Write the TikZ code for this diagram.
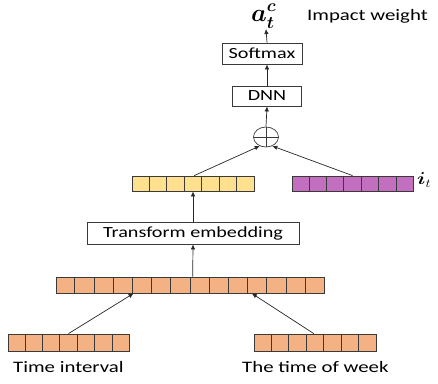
\documentclass[tikz,border=0pt]{standalone}
\usepackage{amsmath}
\usepackage{fontspec}
\setmainfont{Carlito}[FakeStretch=1.3]
\usetikzlibrary{arrows.meta,fit,calc,shapes.geometric}
\definecolor{orng}{HTML}{F4B183}
\definecolor{yel}{HTML}{FFE08F}
\definecolor{purp}{HTML}{C36FBF}
\definecolor{edge}{HTML}{3A3A3A}
\tikzset{
  arr/.style={-{Latex[length=5pt,width=4.5pt]}, line width=0.7pt, draw=black!85},
  txtbox/.style={draw=edge, line width=0.8pt, fill=white, inner sep=0pt, font=\fontsize{15.5}{18}\selectfont},
  cellrow/.style={draw=edge, line width=0.8pt, inner sep=0pt},
  lbl/.style={font=\fontsize{16}{18}\selectfont, inner sep=0pt}
}
\newcommand{\vecrow}[7]{%
  \node[cellrow, fill=#7, fit={(#2,#3)(#4,#5)}] (#1) {};
  \foreach \k in {1,...,\numexpr#6-1\relax}{
    \draw[edge, line width=0.8pt] ($(#1.north west)!\k/#6!(#1.north east)$) -- ($(#1.south west)!\k/#6!(#1.south east)$);
  }%
}
\begin{document}
\begin{tikzpicture}[x=1pt,y=-1pt]
\useasboundingbox (0,0) rectangle (438,383);
% bottom vectors
\vecrow{tiv}{8}{334}{129}{351}{7}{orng}
\vecrow{tow}{254}{334}{376}{351}{7}{orng}
\node[lbl, anchor=west] (tivl) at (13,367) {Time interval};
\node[lbl, anchor=west] (towl) at (242,367) {The time of week};
% long vector
\vecrow{lng}{56}{277}{324}{293}{14}{orng}
% transform box
\node[txtbox, minimum width=212pt, minimum height=22pt] (tr) at (193,233) {Transform embedding};
% yellow and purple
\vecrow{ye}{132}{176}{254}{191}{7}{yel}
\vecrow{pu}{292}{176}{413}{191}{7}{purp}
\node[inner sep=0pt, anchor=west] (it) at (417,180) {\scalebox{1.2}[1]{\fontsize{18}{22}\selectfont$\boldsymbol{i}_t$}};
% plus circle
\node[draw=edge, line width=0.7pt, ellipse, minimum width=25pt, minimum height=20pt, inner sep=0pt] (pl) at (266,137) {};
\draw[edge, line width=0.6pt] (pl.north) -- (pl.south) (pl.west) -- (pl.east);
% DNN, Softmax
\node[txtbox, minimum width=69pt, minimum height=20pt] (dnn) at (267,96) {DNN};
\node[txtbox, minimum width=80pt, minimum height=21pt] (sm) at (262,53.5) {Softmax};
\node[inner sep=0pt, anchor=base west] (a) at (251,21) {\fontsize{23.5}{28}\selectfont$\boldsymbol{a_t^c}$};
\node[lbl, anchor=west] (iw) at (307,16) {Impact weight};
% arrows
\draw[arr] ($(tiv.north west)!0.5!(tiv.north east)$) -- ($(lng.south west)!0.29!(lng.south east)$);
\draw[arr] ($(tow.north west)!0.49!(tow.north east)$) -- ($(lng.south west)!0.73!(lng.south east)$);
\draw[arr] ($(lng.north west)!0.51!(lng.north east)$) -- (tr.south);
\draw[arr] (tr.north) -- ($(ye.south west)!0.5!(ye.south east)$);
\draw[arr] ($(ye.north west)!0.51!(ye.north east)$) -- (pl.235);
\draw[arr] ($(pu.north west)!0.5!(pu.north east)$) -- (pl.-55);
\draw[arr] (pl.north) -- (dnn.south);
\draw[arr] (dnn.north) -- (sm.south -| dnn.north);
\draw[arr] (sm.north -| dnn.north) -- (266,29);
\end{tikzpicture}
\end{document}
